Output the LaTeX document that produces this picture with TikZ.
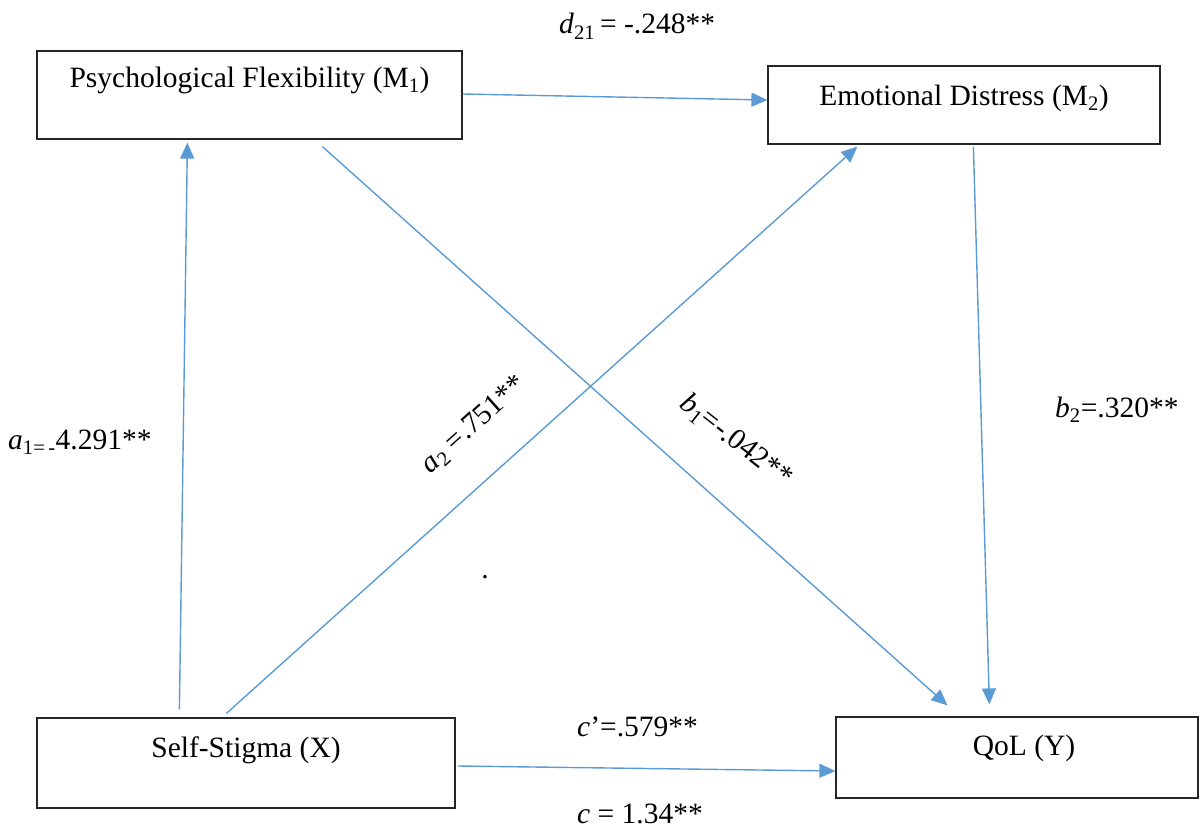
\documentclass[tikz,border=0pt]{standalone}
\usepackage{fontspec}
\setmainfont{Liberation Serif}
\usetikzlibrary{arrows.meta,calc}
\definecolor{arr}{RGB}{91,155,213}
\begin{document}
\begin{tikzpicture}[x=1pt,y=-1pt,
  box/.style={draw=black!85, line width=1.2pt, rectangle, inner sep=0pt},
  lab/.style={font=\fontsize{29.5}{31}\selectfont, inner sep=0pt},
  conn/.style={draw=arr, line width=1.4pt, -{Triangle[length=16pt,width=14pt]}}]
\useasboundingbox (0,0) rectangle (1200,829);
% boxes
\node[box, minimum width=425pt, minimum height=88pt] (m1) at (249.5,95) {};
\node[box, minimum width=392pt, minimum height=78pt] (m2) at (964,105) {};
\node[box, minimum width=418pt, minimum height=90pt] (x) at (246,763) {};
\node[box, minimum width=362pt, minimum height=81pt] (y) at (1017,757.5) {};
% box texts
\node[lab, anchor=base] (m1t) at ($(m1.north)+(0,37)$) {Psychological Flexibility (M\textsubscript{1})};
\node[lab, anchor=base] (m2t) at ($(m2.north)+(0,40)$) {Emotional Distress (M\textsubscript{2})};
\node[lab, anchor=base] (xt) at ($(x.north)+(0,40)$) {Self-Stigma (X)};
\node[lab, anchor=base] (yt) at ($(y.north)+(7,39.5)$) {QoL (Y)};
% connectors
\draw[conn] ([shift={(143,-8)}]x.north west) -- ([shift={(151,3)}]m1.south west);
\draw[conn] ([shift={(190,-4)}]x.north west) -- ([shift={(90,2)}]m2.south west);
\draw[conn] ([shift={(0,-1)}]m1.east) -- ([shift={(0,-5)}]m2.west);
\draw[conn] ([shift={(286,7)}]m1.south west) -- ([shift={(112,-11)}]y.north west);
\draw[conn] ([shift={(206,2)}]m2.south west) -- ([shift={(154,-12)}]y.north west);
\draw[conn] ([shift={(2,3)}]x.east) -- ([shift={(0,13.5)}]y.west);
% labels
\node[lab, anchor=base west] (ld) at (559,34) {\textit{d}\textsubscript{21}\,= -.248**};
\node[lab, anchor=base west] (la1) at (8,449) {\textit{a}\textsubscript{1=\,-}4.291**};
\node[lab, rotate=42] (la2) at (474,425) {\textit{a}\textsubscript{2} =.751**};
\node[lab, rotate=-38] (lb1) at (736,441) {\textit{b}\textsubscript{1}=-.042**};
\node[lab, anchor=base west] (lb2) at (1055,417) {\textit{b}\textsubscript{2}=.320**};
\node[lab, anchor=base west] (lc1) at (577,736) {\textit{c}’=.579**};
\node[lab, anchor=base west] (lc) at (577,823) {\textit{c} = 1.34**};
\node[lab, anchor=base] (dot) at (485,578) {.};
\end{tikzpicture}
\end{document}
